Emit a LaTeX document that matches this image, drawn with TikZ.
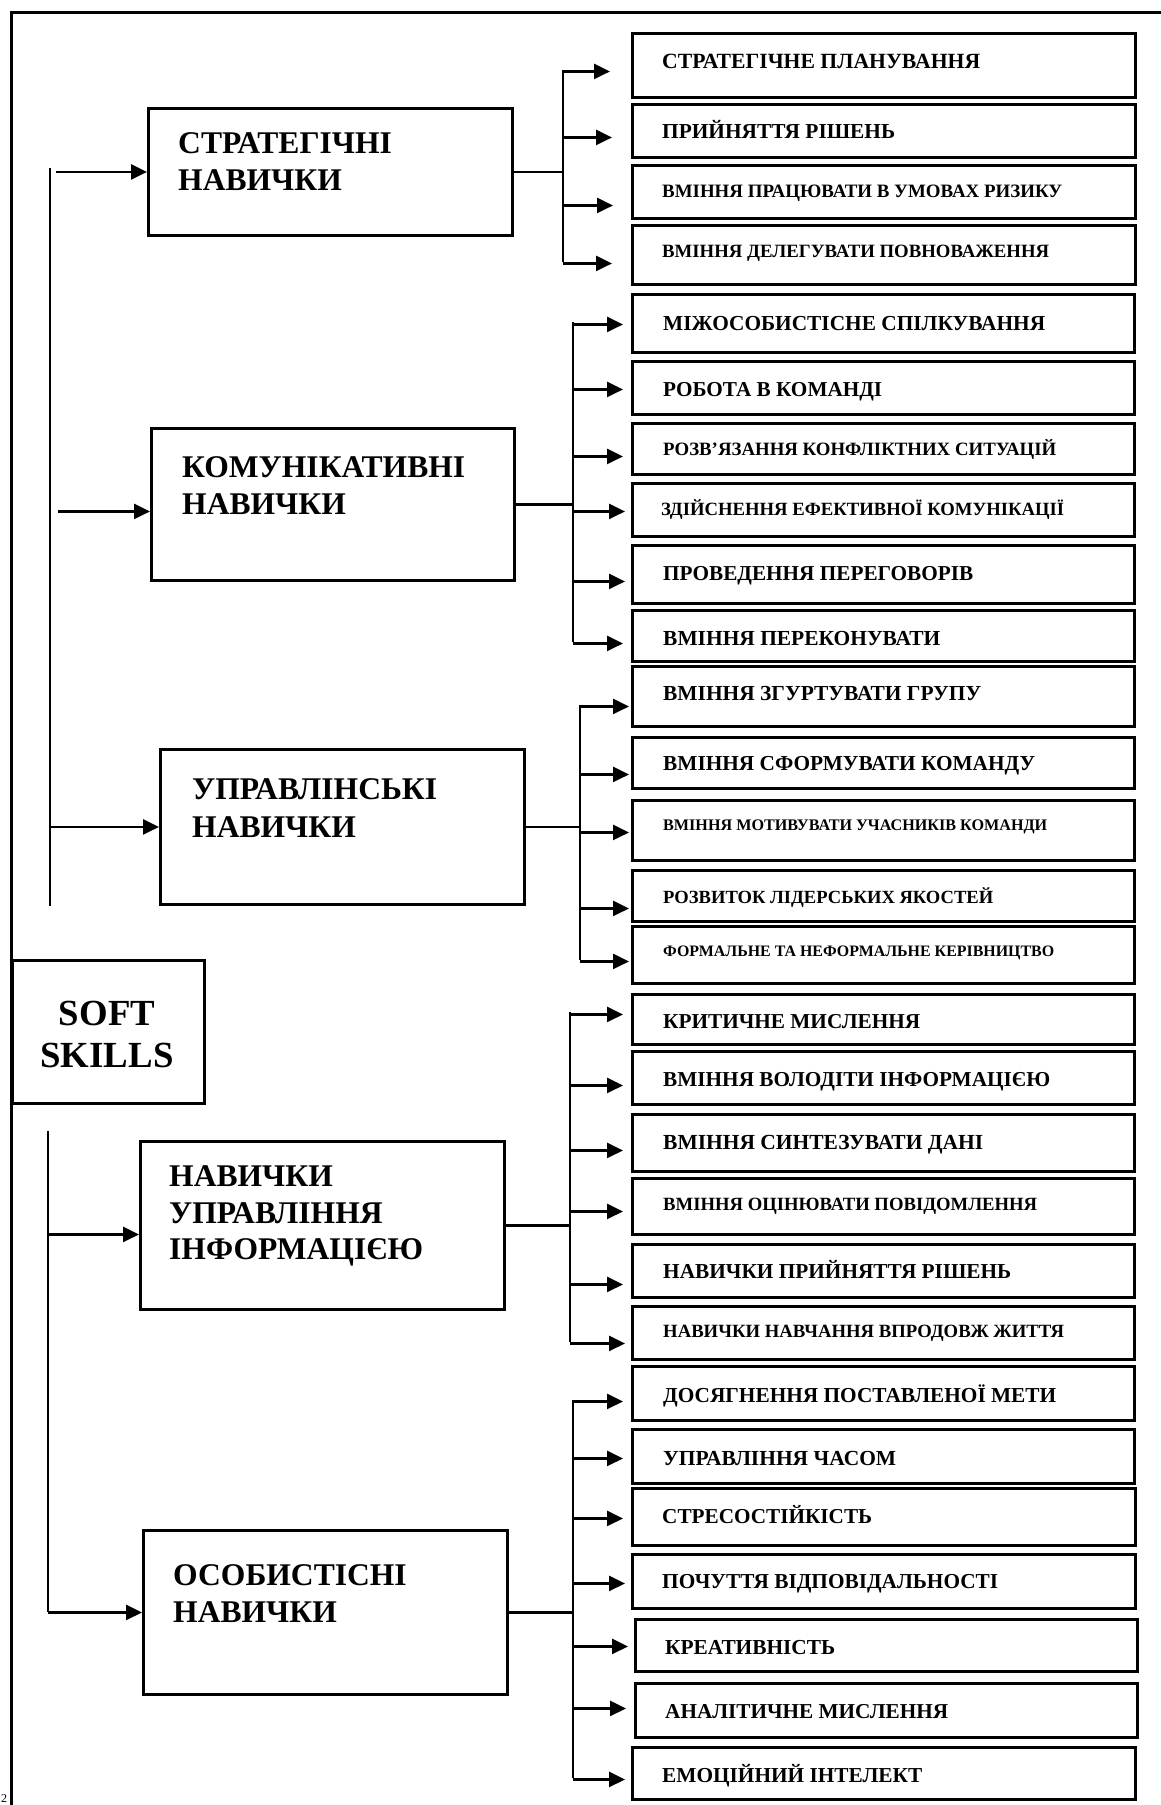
\documentclass[tikz,border=0pt]{standalone}
\usepackage{fontspec}
\setmainfont{Liberation Serif}
\usetikzlibrary{arrows.meta}
\newlength\fitlen
\newcommand\fitw[2]{\settowidth\fitlen{\fontsize{10pt}{12pt}\selectfont #2}\pgfmathsetmacro\fitsz{10*#1/\fitlen}\fontsize{\fitsz pt}{\fitsz pt}\selectfont #2}
\newcommand\fitsize[2]{\settowidth\fitlen{\fontsize{10pt}{12pt}\selectfont #2}\pgfmathsetmacro\fitsz{10*#1/\fitlen}\fontsize{\fitsz pt}{\fitsz pt}\selectfont}
\newcommand\catfont{\fitsize{283}{КОМУНІКАТИВНІ}}
\newcommand\skfont{\fitsize{133}{SKILLS}}
\newcommand\rbox[9]{\node[box,minimum width={#4-#2},minimum height={#5-#3}] (#1) at (#2,#3) {};
  \node[txt] (#1t) at (#6,#7) {\fitw{#8}{#9}};}
\newcommand\arrto[4]{\path (#2.west) ++(0,#3) coordinate (#2a);
  \draw[arr] (#1 |- #2a) -- ([xshift=-#4pt]#2a);}
\begin{document}
\begin{tikzpicture}[x=1pt,y=-1pt,
  box/.style={draw,line width=2.9pt,inner sep=0pt,anchor=north west},
  txt/.style={anchor=base west,inner sep=0pt,font=\bfseries},
  frame/.style={line width=3pt},
  conn/.style={line width=2.6pt},
  arr/.style={line width=2.6pt,-{Triangle[length=16pt,width=15pt]}},
]
\useasboundingbox (0,0) rectangle (1160,1805);

% outer frame
\draw[frame] (11,1812) -- (11,12) -- (1170,12);

% root
\node[box,minimum width=192,minimum height=143] (SK) at (11,959) {};
\node[anchor=base,inner sep=0pt,font=\bfseries] (SK1) at (107,1025) {\skfont SOFT};
\node[anchor=base,inner sep=0pt,font=\bfseries] (SK2) at (107,1067) {\skfont SKILLS};

% trunks
\coordinate (T1t) at (50,168);
\coordinate (T1b) at (50,906);
\coordinate (T2t) at (48,1131);
\coordinate (T2b) at (48,1612);
\draw[conn] (T1t) -- (T1b);
\draw[conn] (T2t) -- (T2b);

% category boxes
\node[box,minimum width=364,minimum height=127] (S) at (147,107) {};
\node[txt] (S1) at (178,153) {\catfont СТРАТЕГІЧНІ};
\node[txt] (S2) at (178,190) {\catfont НАВИЧКИ};

\node[box,minimum width=363,minimum height=152] (C) at (150,427) {};
\node[txt] (C1) at (182,477) {\catfont КОМУНІКАТИВНІ};
\node[txt] (C2) at (182,514) {\catfont НАВИЧКИ};

\node[box,minimum width=364,minimum height=155] (U) at (159,748) {};
\node[txt] (U1) at (192,799) {\catfont УПРАВЛІНСЬКІ};
\node[txt] (U2) at (192,837) {\catfont НАВИЧКИ};

\node[box,minimum width=364,minimum height=168] (I) at (139,1140) {};
\node[txt] (I1) at (169,1186) {\catfont НАВИЧКИ};
\node[txt] (I2) at (169,1223) {\catfont УПРАВЛІННЯ};
\node[txt] (I3) at (169,1259) {\catfont ІНФОРМАЦІЄЮ};

\node[box,minimum width=364,minimum height=164] (P) at (142,1529) {};
\node[txt] (P1) at (173,1585) {\catfont ОСОБИСТІСНІ};
\node[txt] (P2) at (173,1622) {\catfont НАВИЧКИ};

% trunk -> category arrows
\path (S.west) coordinate (Sa);
\draw[arr] (T1t |- Sa) ++(6,0) -- (Sa);
\path (C.west) ++(0,7) coordinate (Ca);
\draw[arr] (T1t |- Ca) ++(8,0) -- (Ca);
\path (U.west) coordinate (Ua);
\draw[arr] (T1t |- Ua) -- (Ua);
\path (I.west) ++(0,9) coordinate (Ia);
\draw[arr] (T2t |- Ia) -- (Ia);
\path (P.west) coordinate (Pa);
\draw[arr] (T2t |- Pa) -- (Pa);

% leaf boxes
\rbox{s1}{631}{32}{1134}{96}{662}{68}{318}{СТРАТЕГІЧНЕ ПЛАНУВАННЯ}
\rbox{s2}{631}{103}{1134}{156}{662}{138}{233}{ПРИЙНЯТТЯ РІШЕНЬ}
\rbox{s3}{631}{164}{1134}{217}{662}{197}{400}{ВМІННЯ ПРАЦЮВАТИ В УМОВАХ РИЗИКУ}
\rbox{s4}{631}{224}{1134}{283}{662}{257}{387}{ВМІННЯ ДЕЛЕГУВАТИ ПОВНОВАЖЕННЯ}

\rbox{c1}{631}{293}{1133}{351}{663}{330}{382}{МІЖОСОБИСТІСНЕ СПІЛКУВАННЯ}
\rbox{c2}{631}{360}{1133}{413}{663}{396}{219}{РОБОТА В КОМАНДІ}
\rbox{c3}{631}{422}{1133}{473}{663}{455}{393}{РОЗВ’ЯЗАННЯ КОНФЛІКТНИХ СИТУАЦІЙ}
\rbox{c4}{631}{482}{1133}{535}{661}{515}{403}{ЗДІЙСНЕННЯ ЕФЕКТИВНОЇ КОМУНІКАЦІЇ}
\rbox{c5}{631}{544}{1133}{602}{663}{580}{310}{ПРОВЕДЕННЯ ПЕРЕГОВОРІВ}
\rbox{c6}{631}{609}{1133}{660}{663}{645}{277}{ВМІННЯ ПЕРЕКОНУВАТИ}

\rbox{u1}{631}{665}{1133}{725}{663}{700}{318}{ВМІННЯ ЗГУРТУВАТИ ГРУПУ}
\rbox{u2}{631}{736}{1133}{787}{663}{770}{372}{ВМІННЯ СФОРМУВАТИ КОМАНДУ}
\rbox{u3}{631}{799}{1133}{859}{663}{830}{384}{ВМІННЯ МОТИВУВАТИ УЧАСНИКІВ КОМАНДИ}
\rbox{u4}{631}{869}{1133}{920}{663}{903}{330}{РОЗВИТОК ЛІДЕРСЬКИХ ЯКОСТЕЙ}
\rbox{u5}{631}{925}{1133}{982}{663}{956}{391}{ФОРМАЛЬНЕ ТА НЕФОРМАЛЬНЕ КЕРІВНИЦТВО}

\rbox{i1}{631}{993}{1133}{1043}{663}{1028}{257}{КРИТИЧНЕ МИСЛЕННЯ}
\rbox{i2}{631}{1050}{1133}{1103}{663}{1086}{387}{ВМІННЯ ВОЛОДІТИ ІНФОРМАЦІЄЮ}
\rbox{i3}{631}{1113}{1133}{1170}{663}{1149}{320}{ВМІННЯ СИНТЕЗУВАТИ ДАНІ}
\rbox{i4}{631}{1177}{1133}{1233}{663}{1210}{374}{ВМІННЯ ОЦІНЮВАТИ ПОВІДОМЛЕННЯ}
\rbox{i5}{631}{1243}{1133}{1296}{663}{1278}{348}{НАВИЧКИ ПРИЙНЯТТЯ РІШЕНЬ}
\rbox{i6}{631}{1305}{1133}{1358}{663}{1337}{401}{НАВИЧКИ НАВЧАННЯ ВПРОДОВЖ ЖИТТЯ}

\rbox{p1}{631}{1365}{1133}{1419}{663}{1402}{393}{ДОСЯГНЕННЯ ПОСТАВЛЕНОЇ МЕТИ}
\rbox{p2}{631}{1428}{1133}{1482}{663}{1465}{233}{УПРАВЛІННЯ ЧАСОМ}
\rbox{p3}{631}{1487}{1134}{1544}{662}{1523}{210}{СТРЕСОСТІЙКІСТЬ}
\rbox{p4}{631}{1553}{1134}{1607}{662}{1588}{336}{ПОЧУТТЯ ВІДПОВІДАЛЬНОСТІ}
\rbox{p5}{634}{1618}{1136}{1670}{665}{1654}{170}{КРЕАТИВНІСТЬ}
\rbox{p6}{634}{1682}{1136}{1736}{665}{1718}{283}{АНАЛІТИЧНЕ МИСЛЕННЯ}
\rbox{p7}{631}{1746}{1134}{1798}{662}{1782}{260}{ЕМОЦІЙНИЙ ІНТЕЛЕКТ}

% brackets
\coordinate (Sbt) at (563,70);   \coordinate (Sbb) at (563,262);
\coordinate (Cbt) at (573,322);  \coordinate (Cbb) at (573,642);
\coordinate (Ubt) at (580,705);  \coordinate (Ubb) at (580,960);
\coordinate (Ibt) at (570,1012); \coordinate (Ibb) at (570,1342);
\coordinate (Pbt) at (573,1400); \coordinate (Pbb) at (573,1778);
\draw[conn] (Sbt) -- (Sbb);
\draw[conn] (Cbt) -- (Cbb);
\draw[conn] (Ubt) -- (Ubb);
\draw[conn] (Ibt) -- (Ibb);
\draw[conn] (Pbt) -- (Pbb);

% category -> bracket
\draw[conn] (S.east) -- (S.east -| Sbt);
\draw[conn] (C.east) -- (C.east -| Cbt);
\draw[conn] (U.east) -- (U.east -| Ubt);
\draw[conn] (I.east) -- (I.east -| Ibt);
\draw[conn] (P.east) -- (P.east -| Pbt);

% bracket -> leaf arrows
\arrto{Sbt}{s1}{6}{21}
\arrto{Sbt}{s2}{6.5}{19}
\arrto{Sbt}{s3}{13.5}{18}
\arrto{Sbt}{s4}{8.5}{19}

\arrto{Cbt}{c1}{1}{8}
\arrto{Cbt}{c2}{1.5}{8}
\arrto{Cbt}{c3}{7.5}{8}
\arrto{Cbt}{c4}{1.5}{6}
\arrto{Cbt}{c5}{7}{6}
\arrto{Cbt}{c6}{7.5}{8}

\arrto{Ubt}{u1}{10}{2}
\arrto{Ubt}{u2}{11.5}{2}
\arrto{Ubt}{u3}{2}{2}
\arrto{Ubt}{u4}{12.5}{2}
\arrto{Ubt}{u5}{6.5}{2}

\arrto{Ibt}{i1}{-5}{8}
\arrto{Ibt}{i2}{7.5}{8}
\arrto{Ibt}{i3}{7.5}{8}
\arrto{Ibt}{i4}{5}{8}
\arrto{Ibt}{i5}{13.5}{8}
\arrto{Ibt}{i6}{10.5}{6}

\arrto{Pbt}{p1}{8}{8}
\arrto{Pbt}{p2}{2}{8}
\arrto{Pbt}{p3}{1.5}{8}
\arrto{Pbt}{p4}{2}{6}
\arrto{Pbt}{p5}{1}{6}
\arrto{Pbt}{p6}{-2}{8}
\arrto{Pbt}{p7}{6}{6}

% page number
\node[anchor=south west,inner sep=0pt,font=\fontsize{12pt}{12pt}\selectfont] (pg) at (1,1803) {2};
\end{tikzpicture}
\end{document}
